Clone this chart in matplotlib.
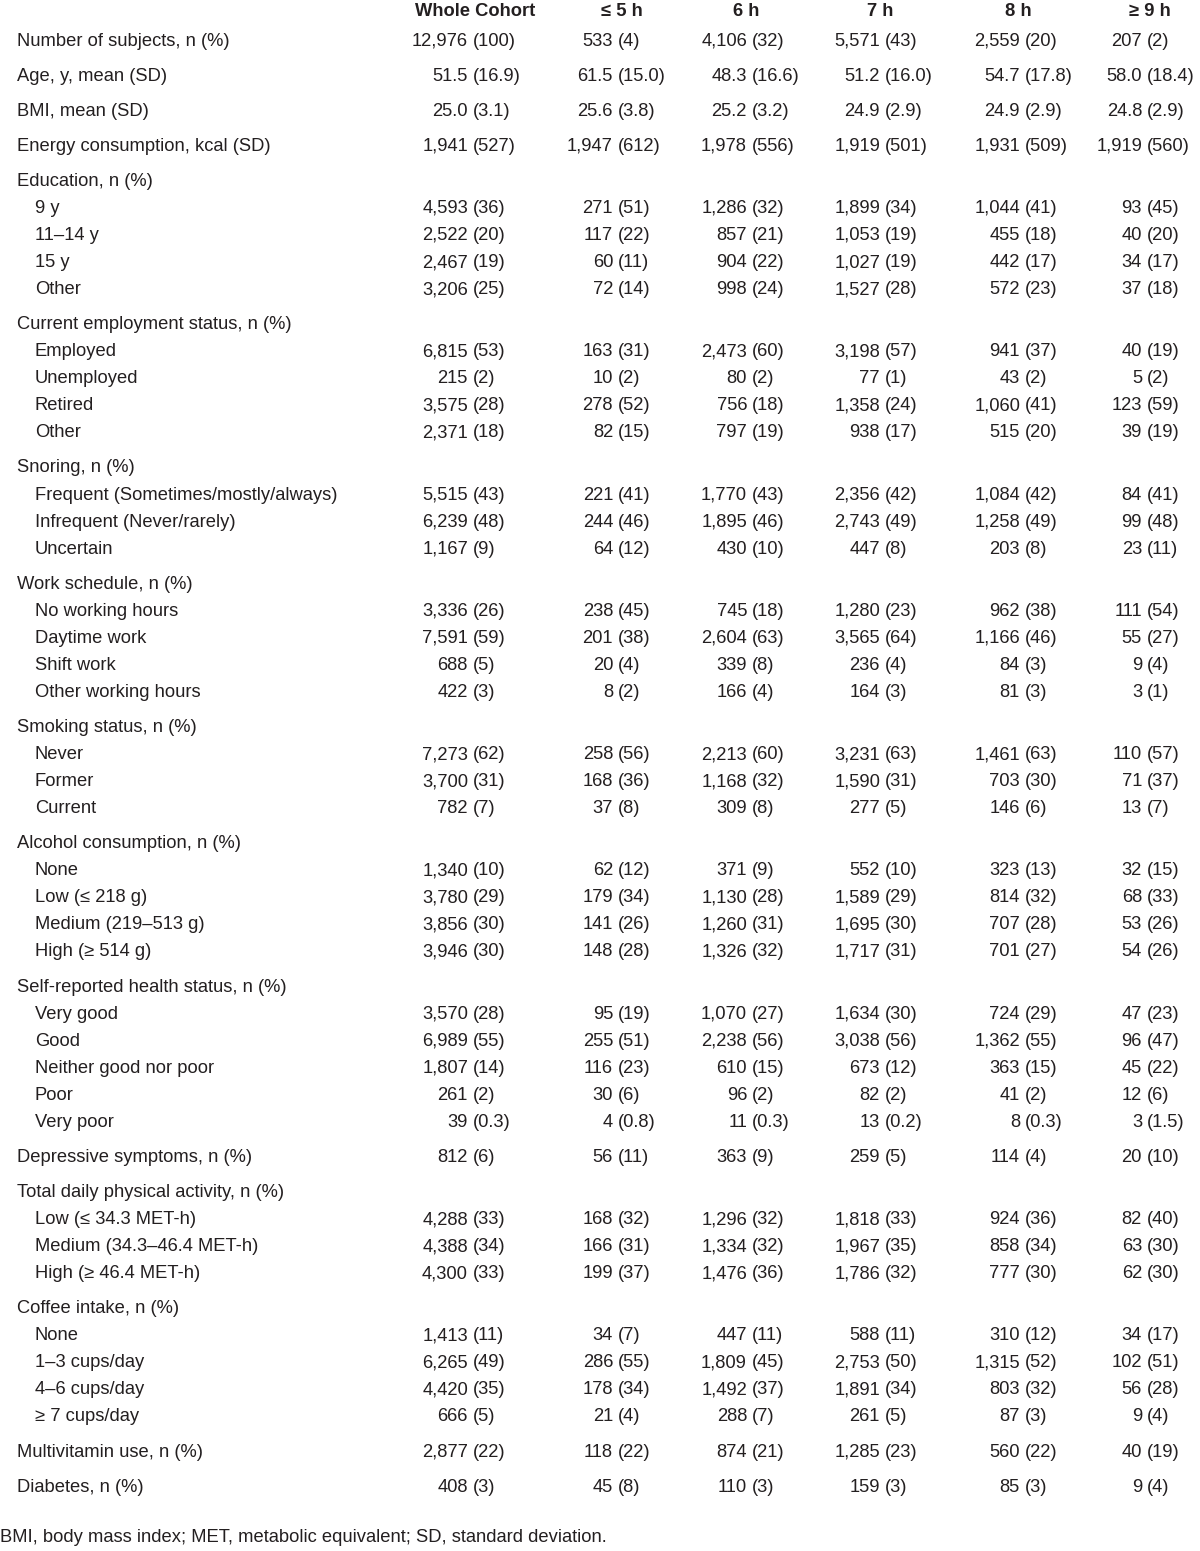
import matplotlib
matplotlib.use("Agg")
import matplotlib.pyplot as plt

plt.rcParams['font.family'] = ['Liberation Sans', 'DejaVu Sans']

# column headings
col_names = ["Whole Cohort", "≤ 5 h", "6 h", "7 h", "8 h", "≥ 9 h"]

# row labels, level 0 = main row, 1 = sub row
labels = [
    "Number of subjects, n (%)", "Age, y, mean (SD)", "BMI, mean (SD)",
    "Energy consumption, kcal (SD)",
    "Education, n (%)", "9 y", "11–14 y", "15 y", "Other",
    "Current employment status, n (%)", "Employed", "Unemployed", "Retired", "Other",
    "Snoring, n (%)", "Frequent (Sometimes/mostly/always)", "Infrequent (Never/rarely)", "Uncertain",
    "Work schedule, n (%)", "No working hours", "Daytime work", "Shift work", "Other working hours",
    "Smoking status, n (%)", "Never", "Former", "Current",
    "Alcohol consumption, n (%)", "None", "Low (≤ 218 g)", "Medium (219–513 g)", "High (≥ 514 g)",
    "Self-reported health status, n (%)", "Very good", "Good", "Neither good nor poor", "Poor", "Very poor",
    "Depressive symptoms, n (%)",
    "Total daily physical activity, n (%)", "Low (≤ 34.3 MET-h)", "Medium (34.3–46.4 MET-h)", "High (≥ 46.4 MET-h)",
    "Coffee intake, n (%)", "None", "1–3 cups/day", "4–6 cups/day", "≥ 7 cups/day",
    "Multivitamin use, n (%)", "Diabetes, n (%)",
]
level = [0, 0, 0, 0,
         0, 1, 1, 1, 1,
         0, 1, 1, 1, 1,
         0, 1, 1, 1,
         0, 1, 1, 1, 1,
         0, 1, 1, 1,
         0, 1, 1, 1, 1,
         0, 1, 1, 1, 1, 1,
         0,
         0, 1, 1, 1,
         0, 1, 1, 1, 1,
         0, 0]

whole = ["12,976 (100)", "51.5 (16.9)", "25.0 (3.1)", "1,941 (527)",
         None, "4,593 (36)", "2,522 (20)", "2,467 (19)", "3,206 (25)",
         None, "6,815 (53)", "215 (2)", "3,575 (28)", "2,371 (18)",
         None, "5,515 (43)", "6,239 (48)", "1,167 (9)",
         None, "3,336 (26)", "7,591 (59)", "688 (5)", "422 (3)",
         None, "7,273 (62)", "3,700 (31)", "782 (7)",
         None, "1,340 (10)", "3,780 (29)", "3,856 (30)", "3,946 (30)",
         None, "3,570 (28)", "6,989 (55)", "1,807 (14)", "261 (2)", "39 (0.3)",
         "812 (6)",
         None, "4,288 (33)", "4,388 (34)", "4,300 (33)",
         None, "1,413 (11)", "6,265 (49)", "4,420 (35)", "666 (5)",
         "2,877 (22)", "408 (3)"]
le5 = ["533 (4)", "61.5 (15.0)", "25.6 (3.8)", "1,947 (612)",
       None, "271 (51)", "117 (22)", "60 (11)", "72 (14)",
       None, "163 (31)", "10 (2)", "278 (52)", "82 (15)",
       None, "221 (41)", "244 (46)", "64 (12)",
       None, "238 (45)", "201 (38)", "20 (4)", "8 (2)",
       None, "258 (56)", "168 (36)", "37 (8)",
       None, "62 (12)", "179 (34)", "141 (26)", "148 (28)",
       None, "95 (19)", "255 (51)", "116 (23)", "30 (6)", "4 (0.8)",
       "56 (11)",
       None, "168 (32)", "166 (31)", "199 (37)",
       None, "34 (7)", "286 (55)", "178 (34)", "21 (4)",
       "118 (22)", "45 (8)"]
h6 = ["4,106 (32)", "48.3 (16.6)", "25.2 (3.2)", "1,978 (556)",
      None, "1,286 (32)", "857 (21)", "904 (22)", "998 (24)",
      None, "2,473 (60)", "80 (2)", "756 (18)", "797 (19)",
      None, "1,770 (43)", "1,895 (46)", "430 (10)",
      None, "745 (18)", "2,604 (63)", "339 (8)", "166 (4)",
      None, "2,213 (60)", "1,168 (32)", "309 (8)",
      None, "371 (9)", "1,130 (28)", "1,260 (31)", "1,326 (32)",
      None, "1,070 (27)", "2,238 (56)", "610 (15)", "96 (2)", "11 (0.3)",
      "363 (9)",
      None, "1,296 (32)", "1,334 (32)", "1,476 (36)",
      None, "447 (11)", "1,809 (45)", "1,492 (37)", "288 (7)",
      "874 (21)", "110 (3)"]
h7 = ["5,571 (43)", "51.2 (16.0)", "24.9 (2.9)", "1,919 (501)",
      None, "1,899 (34)", "1,053 (19)", "1,027 (19)", "1,527 (28)",
      None, "3,198 (57)", "77 (1)", "1,358 (24)", "938 (17)",
      None, "2,356 (42)", "2,743 (49)", "447 (8)",
      None, "1,280 (23)", "3,565 (64)", "236 (4)", "164 (3)",
      None, "3,231 (63)", "1,590 (31)", "277 (5)",
      None, "552 (10)", "1,589 (29)", "1,695 (30)", "1,717 (31)",
      None, "1,634 (30)", "3,038 (56)", "673 (12)", "82 (2)", "13 (0.2)",
      "259 (5)",
      None, "1,818 (33)", "1,967 (35)", "1,786 (32)",
      None, "588 (11)", "2,753 (50)", "1,891 (34)", "261 (5)",
      "1,285 (23)", "159 (3)"]
h8 = ["2,559 (20)", "54.7 (17.8)", "24.9 (2.9)", "1,931 (509)",
      None, "1,044 (41)", "455 (18)", "442 (17)", "572 (23)",
      None, "941 (37)", "43 (2)", "1,060 (41)", "515 (20)",
      None, "1,084 (42)", "1,258 (49)", "203 (8)",
      None, "962 (38)", "1,166 (46)", "84 (3)", "81 (3)",
      None, "1,461 (63)", "703 (30)", "146 (6)",
      None, "323 (13)", "814 (32)", "707 (28)", "701 (27)",
      None, "724 (29)", "1,362 (55)", "363 (15)", "41 (2)", "8 (0.3)",
      "114 (4)",
      None, "924 (36)", "858 (34)", "777 (30)",
      None, "310 (12)", "1,315 (52)", "803 (32)", "87 (3)",
      "560 (22)", "85 (3)"]
ge9 = ["207 (2)", "58.0 (18.4)", "24.8 (2.9)", "1,919 (560)",
       None, "93 (45)", "40 (20)", "34 (17)", "37 (18)",
       None, "40 (19)", "5 (2)", "123 (59)", "39 (19)",
       None, "84 (41)", "99 (48)", "23 (11)",
       None, "111 (54)", "55 (27)", "9 (4)", "3 (1)",
       None, "110 (57)", "71 (37)", "13 (7)",
       None, "32 (15)", "68 (33)", "53 (26)", "54 (26)",
       None, "47 (23)", "96 (47)", "45 (22)", "12 (6)", "3 (1.5)",
       "20 (10)",
       None, "82 (40)", "63 (30)", "62 (30)",
       None, "34 (17)", "102 (51)", "56 (28)", "9 (4)",
       "40 (19)", "9 (4)"]
columns = [whole, le5, h6, h7, h8, ge9]

footnote = "BMI, body mass index; MET, metabolic equivalent; SD, standard deviation."

# layout (pixels)
W, H = 1200, 1551
head_x = [475, 622, 746, 880, 1018, 1150]
paren_x = [473, 618, 752, 885, 1025, 1147]
txt = '#231f20'
fs = 13.2

fig = plt.figure(figsize=(W / 100, H / 100), dpi=100)
ax = fig.add_axes([0, 0, 1, 1])
ax.set_xlim(0, W)
ax.set_ylim(H, 0)
ax.axis('off')

for name, x in zip(col_names, head_x):
    ax.text(x, 11, name, ha='center', va='center', fontsize=fs, fontweight='bold', color=txt)

y = 41
for i, lab in enumerate(labels):
    if i > 0:
        y += 27.05 if level[i] == 1 else 35.1
    ax.text(17 if level[i] == 0 else 35, y, lab, ha='left', va='center', fontsize=fs, color=txt)
    for col, px in zip(columns, paren_x):
        cell = col[i]
        if cell is None:
            continue
        num, pct = cell.split(' ')
        ax.text(px - 5, y, num, ha='right', va='center', fontsize=fs, color=txt)
        ax.text(px, y, pct, ha='left', va='center', fontsize=fs, color=txt)

ax.text(0, 1538, footnote, ha='left', va='center', fontsize=fs, color=txt)

fig.savefig('out.png', dpi=100)
